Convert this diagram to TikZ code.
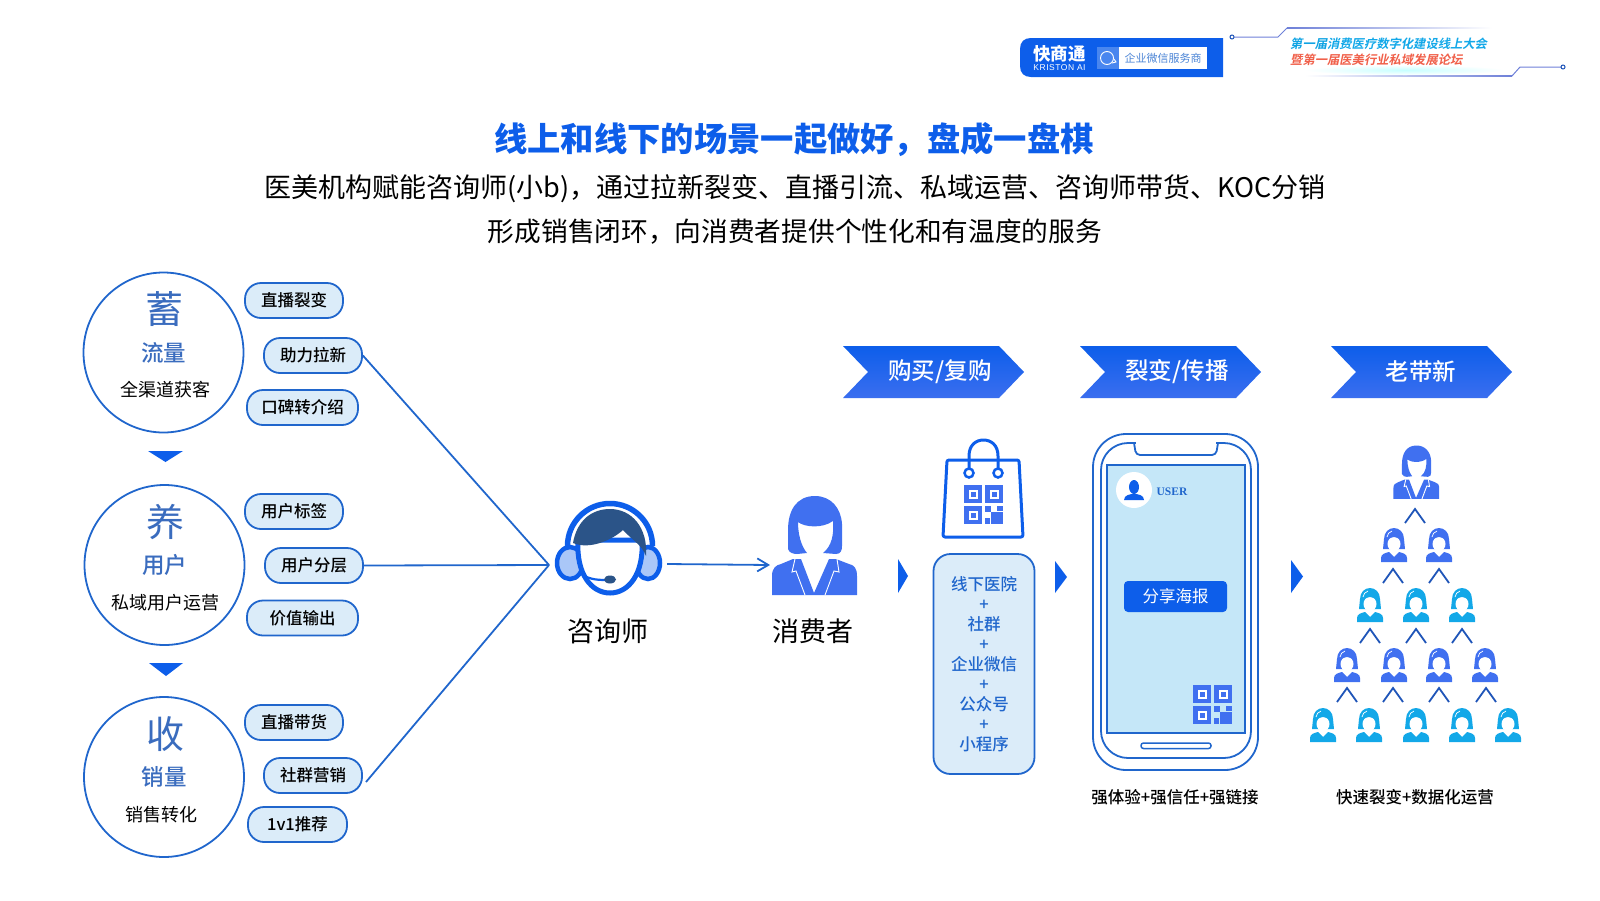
\documentclass[tikz,border=0pt]{standalone}
\usepackage{fontspec}
\usepackage{xcolor}
\setmainfont{Noto Sans CJK SC}
\newfontfamily\slantfont[FakeSlant=0.2]{Noto Sans CJK SC Bold}
\newfontfamily\medfont{Noto Sans CJK SC Medium}
\newfontfamily\userfont{Liberation Serif Bold}
\newfontfamily\kristonfont[LetterSpace=6]{Liberation Sans}
\usetikzlibrary{arrows.meta}
\newcommand{\fsz}[1]{\fontsize{#1}{#1}\selectfont}
\tikzset{
  pics/woman/.style={code={
    \fill[#1] (1,-50) .. controls (-18,-50) and (-26,-35) .. (-26,-16) -- (-26,3) .. controls (-25,7) and (-20,8) .. (-17,8) -- (-7,7) .. controls (-13,0) and (-16,-12) .. (-16,-24) .. controls (-10,-19) and (8,-17) .. (19,-25) .. controls (20,-12) and (18,0) .. (9,7) -- (22,8) .. controls (27,8) and (28,4) .. (28,0) -- (28,-22) .. controls (27,-38) and (17,-50) .. (1,-50) -- cycle;
    \fill[#1] (-42,49) -- (-42,30) .. controls (-42,22) and (-38,19) .. (-33,18) -- (-21,13) -- (-13,13) -- (0,47) -- (15,13) -- (22,13) -- (35,18) .. controls (40,19) and (43,22) .. (43,30) -- (43,49) -- cycle;
    \draw[white,line width=0.9pt] (-19,13) -- (-22,26) -- (-18,25) -- (-9,49);
    \draw[white,line width=0.9pt] (23,13) -- (25,26) -- (20,25) -- (11,49);
  }},
  pics/bust/.style={code={
    \fill[#1] (-11,4) -- (-10,-6) .. controls (-10,-13) and (-5,-17) .. (0,-17) .. controls (5,-17) and (10,-13) .. (10,-6) -- (11,4) -- cycle;
    \fill[white] (0,-1) ellipse[x radius=6.5,y radius=7.2];
    \fill[#1] (-7,-5) .. controls (-3,-9) and (3,-9) .. (7,-5) -- (6,-11) -- (-6,-11) -- cycle;
    \draw[white,line width=0.7pt] (-7,-8) .. controls (-6.5,-11) and (-5,-13) .. (-2,-14);
    \fill[#1] (-13,17) -- (-13,13) .. controls (-13,9) and (-9,8) .. (-5,7) -- (0,12) -- (5,7) .. controls (9,8) and (13,9) .. (13,13) -- (13,17) -- cycle;
  }},
  pics/qrcode/.style={code={
    \foreach \qx/\qy in {0/0,21/0,0/21}{
      \fill[#1] (\qx,\qy) rectangle ++(18,18);
      \fill[white] (\qx+4.5,\qy+4.5) rectangle ++(9,9);
      \fill[#1] (\qx+6.5,\qy+6.5) rectangle ++(5,5);
    }
    \foreach \qx/\qy/\qw/\qh in {21/21/6/6,33/21/6/5,27/27/6/6,21/33/5/6,33/27/6/12,27/33/6/6}{
      \fill[#1] (\qx,\qy) rectangle ++(\qw,\qh);
    }
  }},
}

\begin{document}
\begin{tikzpicture}[x=1pt,y=-1pt,>={Straight Barb[length=11pt,width=13pt]},
    pillbox/.style={draw=cLine,fill=cPale,line width=1.8pt,rounded corners=16pt,minimum height=35pt,inner sep=0pt,font=\medfont\fsz{16.5}},
    hubline/.style={cLine,line width=1.8pt},
    caret/.style={cCaret,line width=1.8pt}]
  \definecolor{cMain}{RGB}{13,94,234}
  \definecolor{cLine}{RGB}{32,102,204}
  \definecolor{cPale}{RGB}{219,236,249}
  \definecolor{cIcon}{RGB}{64,112,240}
  \definecolor{cSky}{RGB}{19,168,232}
  \definecolor{cNavy}{RGB}{43,84,136}
  \definecolor{cCaret}{RGB}{31,85,184}
  \definecolor{cTrace}{RGB}{110,128,216}
  \definecolor{cHan}{RGB}{58,108,190}
  \useasboundingbox (0,0) rectangle (1600,900);

  % header logo
  \fill[cMain] (1223,38) -- (1031,38) .. controls (1024,38) and (1020,42) .. (1020,49) -- (1020,66) .. controls (1020,73) and (1024,77) .. (1031,77) -- (1223,77) -- cycle;
  \fill[cMain!75!white] (1097,47) rectangle (1119,69);
  \fill[white] (1119,47) rectangle (1207,69);
  \draw[white,line width=0.9pt] (1107,58) circle (6.5);
  \draw[white,line width=0.9pt] (1112,63) -- (1116,62) -- (1114,59);
  \node[white,font=\fsz{17.5}\bfseries] (brand) at (1059.5,54) {快商通};
  \node[white,font=\kristonfont\fsz{8.5}] (kriston) at (1059.5,67.5) {KRISTON AI};
  \node[cLine!80!white,font=\fsz{11}] (wecom) at (1163,58) {企业微信服务商};

  % conference badge
  \shade[left color=cTrace,right color=white] (1287,27.2) rectangle (1492,28.8);
  \shade[left color=white,right color=cTrace] (1305,75.2) rectangle (1512,76.8);
  \shade[inner color=cyan!22,outer color=white] (1405,70) ellipse[x radius=100,y radius=5];
  \coordinate (traceA) at (1232,37);
  \coordinate (traceB) at (1563,67);
  \draw[cTrace,line width=1pt] (traceA) -- (1278,37) -- (1287,28);
  \draw[cTrace,line width=1pt] (1512,76) -- (1520,67) -- (traceB);
  \filldraw[draw=cCaret,fill=white,line width=1pt] (traceA) circle (2);
  \filldraw[draw=cCaret,fill=white,line width=1pt] (traceB) circle (2);
  \node[anchor=west,inner sep=0pt,font=\slantfont\fsz{12.3}] (meetA) at (1290,44) {\textcolor{cyan!70!cSky}{第一届}\textcolor{cSky}{消费医疗数字化建设线上大会}};
  \node[anchor=west,inner sep=0pt,font=\slantfont\fsz{12.3},text={rgb,255:red,240;green,96;blue,74}] (meetB) at (1290,60) {暨第一届医美行业私域发展论坛};

  % headings
  \node[cMain,font=\fsz{33.3}\bfseries] (title) at (794,140) {线上和线下的场景一起做好，盘成一盘棋};
  \node[font=\fsz{27}] (subA) at (795,189) {医美机构赋能咨询师(小b)，通过拉新裂变、直播引流、私域运营、咨询师带货、KOC分销};
  \node[font=\fsz{26.7}] (subB) at (795,232) {形成销售闭环，向消费者提供个性化和有温度的服务};

  % left column
  \foreach \nm/\cx/\cy/\hanzi/\midtxt/\lowtxt/\lx in {store/163.5/352.5/蓄/流量/全渠道获客/165,raise/164.5/565/养/用户/私域用户运营/165,reap/164/777/收/销量/销售转化/161}{
    \node[draw=cLine,line width=1.8pt,circle,minimum size=160pt,inner sep=0pt] (\nm) at (\cx,\cy) {};
    \node[cHan,font=\fsz{38}] (\nm big) at (\cx+1,\cy-43) {\hanzi};
    \node[cHan,font=\medfont\fsz{22.5}] (\nm mid) at (\cx,\cy) {\midtxt};
    \node[font=\fsz{18}] (\nm low) at (\lx,\cy+37.5) {\lowtxt};
  }
  \fill[cMain] (148,451) -- (183,451) -- (165.5,462) -- cycle;
  \fill[cMain] (149,663) -- (183,663) -- (166,676) -- cycle;

  \foreach \nm/\cx/\cy/\pw/\txt in {live/294/300.5/98/直播裂变,pull/313/355.5/98/助力拉新,word/302.5/407.5/111/口碑转介绍,tag/294/511.5/98/用户标签,layer/314/565.5/98/用户分层,worth/302.5/618/111/价值输出,sell/294/722.5/98/直播带货,group/313/775.5/98/社群营销,refer/297.5/824.5/99/1v1推荐}{
    \node[pillbox,minimum width=\pw pt] (\nm) at (\cx,\cy) {\txt};
  }

  % connectors
  \coordinate (hub) at (549,565);
  \coordinate (groupend) at (366,782);
  \draw[hubline] (pull.east) -- (hub);
  \draw[hubline] (layer.east) -- (hub);
  \draw[hubline] (groupend) -- (hub);
  \coordinate (adviserR) at (667,564);
  \coordinate (clientL) at (770,565);
  \draw[->,hubline] (adviserR) -- (clientL);

  % headset figure
  \filldraw[draw=cMain,fill=cMain!35!white,line width=4.5pt] (570,563) ellipse[x radius=13,y radius=16];
  \filldraw[draw=cMain,fill=cMain!35!white,line width=4.5pt] (648,563) ellipse[x radius=12,y radius=16];
  \draw[cMain,line width=5.5pt] (567.5,546) arc[start angle=180,end angle=360,radius=42.5];
  \filldraw[draw=cMain,fill=white,line width=5pt] (578,540) .. controls (576,575) and (592,593) .. (610,593) .. controls (628,593) and (644,575) .. (642,540) -- cycle;
  \fill[cNavy] (573,543) .. controls (577,520) and (592,509) .. (610,509) .. controls (632,509) and (648,528) .. (646,556) .. controls (642,545) and (632,540) .. (623,530) .. controls (612,540) and (590,550) .. (573,543) -- cycle;
  \draw[cMain,line width=2.2pt] (580,572) .. controls (586,579) and (596,580) .. (606,580);
  \fill[cNavy] (610,579.5) ellipse[x radius=6,y radius=4];
  \node[font=\fsz{27}] (adviser) at (608,631.5) {咨询师};

  \pic at (814,546) {woman=cIcon};
  \node[font=\fsz{27}] (client) at (813,631.5) {消费者};

  % step ribbons
  \foreach \rx/\tx/\nm/\txt in {843/940/buy/{购买/复购},1080/1177/share/{裂变/传播},1331/1421/invite/老带新}{
    \shade[top color=cMain,bottom color=cIcon!90!cMain] (\rx,346) -- (\rx+156,346) -- (\rx+181,372) -- (\rx+156,398) -- (\rx,398) -- (\rx+25,372) -- cycle;
    \node[white,font=\medfont\fsz{23.5}] (\nm) at (\tx,372) {\txt};
  }

  \fill[cMain] (898,559) -- (908,576) -- (898,593) -- cycle;
  \fill[cMain] (1055,561) -- (1067,577) -- (1055,593) -- cycle;
  \fill[cMain] (1291,560) -- (1303,576.5) -- (1291,593) -- cycle;

  % bag
  \draw[cMain,line width=3pt,line join=round,rounded corners=2pt] (947,460) -- (1019,460) -- (1023,537) -- (943,537) -- cycle;
  \draw[cMain,line width=3pt] (969,470) -- (969,456) .. controls (969,445) and (976,440) .. (983.5,440) .. controls (991,440) and (998,445) .. (998,456) -- (998,470);
  \filldraw[draw=cMain,fill=white,line width=2.5pt] (969,473) circle (4.5);
  \filldraw[draw=cMain,fill=white,line width=2.5pt] (998,473) circle (4.5);
  \pic at (964,485) {qrcode=cIcon};

  % channel list
  \node[draw=cLine,fill=cPale,line width=1.8pt,rounded corners=17pt,minimum width=101pt,minimum height=220pt,inner sep=0pt,align=center,text=cLine,font=\medfont\fontsize{16.5}{20}\selectfont] (channels) at (984,664) {线下医院\\+\\社群\\+\\企业微信\\+\\公众号\\+\\小程序};

  % phone
  \draw[cLine,line width=1.8pt,rounded corners=33pt] (1093,434) rectangle (1258,770);
  \draw[cLine,line width=1.8pt,rounded corners=27pt] (1101,443) rectangle (1251,758);
  \draw[white,line width=2.5pt] (1136,443) -- (1216,443);
  \draw[cLine,line width=1.8pt,rounded corners=4pt] (1134,443) -- (1136,455) -- (1216,455) -- (1218,443);
  \filldraw[draw=cLine,fill=cPale!70!cSky!60!white,line width=1.8pt] (1107,465) rectangle (1245,733);
  \draw[cLine,line width=1.5pt,rounded corners=2.5pt] (1141,743) rectangle (1211,748.5);
  \fill[white] (1134,490) circle (18);
  \fill[cMain] (1134,487) ellipse[x radius=5,y radius=7];
  \fill[cMain] (1124,500) .. controls (1124,495) and (1130,494) .. (1134,494) .. controls (1138,494) and (1144,495) .. (1144,500) -- cycle;
  \node[cLine,font=\userfont\fsz{11.5}] (user) at (1172,492) {USER};
  \node[fill=cMain,text=white,rounded corners=4pt,minimum width=103pt,minimum height=31pt,inner sep=0pt,font=\fsz{16.5}] (poster) at (1175.5,596.5) {分享海报};
  \pic at (1193,685) {qrcode=cIcon};
  \node[font=\medfont\fsz{16.5}] (strong) at (1175,797) {强体验+强信任+强链接};

  % fission pyramid
  \pic[scale=0.54] at (1416,472.5) {woman=cIcon};
  \foreach \px in {1394,1439}{\pic at (\px,545) {bust=cIcon};}
  \foreach \px in {1370,1416,1462}{\pic at (\px,605) {bust=cSky};}
  \foreach \px in {1347,1394,1439,1485}{\pic at (\px,665) {bust=cIcon};}
  \foreach \px in {1323,1369,1416,1462,1508}{\pic at (\px,725) {bust=cSky};}
  \foreach \px/\py in {1415/509,1393/569,1439/569,1370/629,1416/629,1462/629,1347/688,1393/688,1439/688,1486/688}{
    \draw[caret] (\px-10,\py+14) -- (\px,\py) -- (\px+10,\py+14);
  }
  \node[font=\medfont\fsz{16.5}] (fission) at (1415,797) {快速裂变+数据化运营};
\end{tikzpicture}
\end{document}
